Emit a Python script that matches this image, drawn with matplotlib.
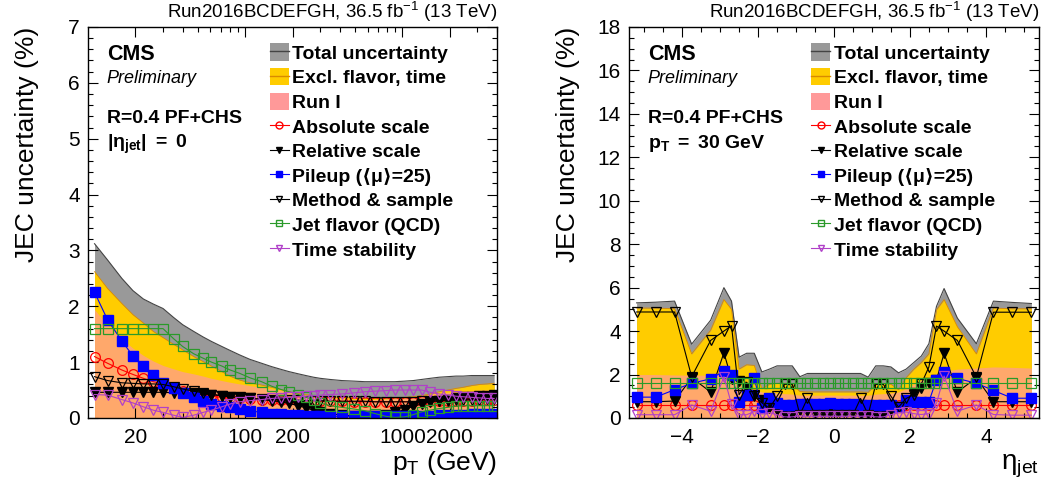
import matplotlib
matplotlib.use("Agg")
import matplotlib.pyplot as plt
import numpy as np
from matplotlib.patches import Patch
from matplotlib.lines import Line2D
from matplotlib.ticker import FixedLocator, LogLocator, NullFormatter, MultipleLocator

plt.rcParams['font.family'] = ['Liberation Sans', 'DejaVu Sans']
plt.rcParams['mathtext.fontset'] = 'custom'
plt.rcParams['mathtext.rm'] = 'Liberation Sans'
plt.rcParams['mathtext.it'] = 'Liberation Sans:italic'
plt.rcParams['mathtext.bf'] = 'Liberation Sans:bold'
plt.rcParams['mathtext.sf'] = 'Liberation Sans'

# ---- left panel: vs pT at eta = 0 ----
pt = [11, 13.3, 16.4, 19.3, 22.5, 26, 30, 35, 40, 47, 54, 61, 71, 80, 92, 107, 127, 147,
      169, 190, 218, 243, 272, 300, 346, 412, 494, 576, 668, 784, 895, 1036, 1172, 1326,
      1500, 1714, 1940, 2194, 2436, 2752, 3084, 3475, 3834]
pt_total = [3.12, 2.83, 2.50, 2.28, 2.13, 2.04, 1.96, 1.80, 1.67, 1.55, 1.45, 1.37, 1.28, 1.21, 1.13,
            1.05, 0.98, 0.92, 0.87, 0.83, 0.79, 0.76, 0.73, 0.71, 0.69, 0.67, 0.66, 0.65, 0.65,
            0.65, 0.65, 0.66, 0.67, 0.69, 0.71, 0.73, 0.74, 0.75, 0.75, 0.76, 0.76, 0.76, 0.76]
pt_excl = [2.62, 2.32, 2.05, 1.85, 1.70, 1.55, 1.44, 1.32, 1.22, 1.10, 1.01, 0.93, 0.83, 0.75, 0.68,
           0.63, 0.59, 0.55, 0.51, 0.47, 0.44, 0.42, 0.40, 0.39, 0.38, 0.37, 0.36, 0.35, 0.35,
           0.35, 0.36, 0.37, 0.38, 0.40, 0.43, 0.47, 0.50, 0.53, 0.55, 0.58, 0.60, 0.61, 0.62]
pt_run1 = [1.94, 1.66, 1.42, 1.25, 1.12, 1.02, 0.94, 0.88, 0.83, 0.79, 0.75, 0.71, 0.67, 0.64, 0.61,
           0.58, 0.55, 0.52, 0.49, 0.46, 0.44, 0.42, 0.40, 0.38, 0.36, 0.34, 0.33, 0.33, 0.33,
           0.34, 0.35, 0.36, 0.38, 0.40, 0.42, 0.44, 0.46, 0.47, 0.48, 0.49, 0.50, 0.50, 0.50]
pt_abs = [1.10, 0.98, 0.86, 0.78, 0.71, 0.65, 0.61, 0.54, 0.48, 0.44, 0.41, 0.39, 0.37, 0.36, 0.35,
          0.34, 0.33, 0.33, 0.32, 0.32, 0.31, 0.31, 0.31, 0.30, 0.30, 0.30, 0.29, 0.29, 0.29,
          0.29, 0.29, 0.29, 0.29, 0.30, 0.30, 0.30, 0.31, 0.31, 0.31, 0.31, 0.32, 0.32, 0.32]
pt_rel = [0.46, 0.46, 0.46, 0.46, 0.46, 0.46, 0.46, 0.45, 0.44, 0.44, 0.43, 0.42, 0.40, 0.38, 0.37,
          0.35, 0.33, 0.31, 0.29, 0.26, 0.22, 0.18, 0.14, 0.11, 0.08, 0.05, 0.04, 0.03, 0.04,
          0.06, 0.10, 0.15, 0.21, 0.25, 0.29, 0.31, 0.33, 0.35, 0.37, 0.38, 0.39, 0.40, 0.41]
pt_pu = [2.25, 1.76, 1.38, 1.11, 0.93, 0.77, 0.63, 0.53, 0.44, 0.38, 0.30, 0.25, 0.21, 0.19, 0.16,
         0.13, 0.10, 0.08, 0.07, 0.06, 0.05, 0.04, 0.04, 0.04, 0.03, 0.03, 0.03, 0.03, 0.03,
         0.03, 0.03, 0.03, 0.03, 0.04, 0.04, 0.05, 0.05, 0.06, 0.06, 0.07, 0.07, 0.07, 0.08]
pt_meth = [0.74, 0.67, 0.63, 0.62, 0.61, 0.61, 0.60, 0.56, 0.52, 0.48, 0.45, 0.42, 0.40, 0.38, 0.36,
           0.35, 0.34, 0.33, 0.33, 0.32, 0.32, 0.31, 0.31, 0.31, 0.30, 0.30, 0.30, 0.30, 0.29,
           0.29, 0.29, 0.29, 0.29, 0.30, 0.30, 0.31, 0.31, 0.32, 0.32, 0.33, 0.33, 0.34, 0.34]
pt_flav = [1.60, 1.60, 1.60, 1.60, 1.60, 1.60, 1.60, 1.42, 1.28, 1.15, 1.07, 1.00, 0.93, 0.86, 0.80,
           0.72, 0.65, 0.57, 0.51, 0.47, 0.42, 0.37, 0.32, 0.27, 0.22, 0.19, 0.16, 0.13, 0.08,
           0.03, 0.01, 0.02, 0.06, 0.11, 0.14, 0.17, 0.19, 0.21, 0.22, 0.22, 0.22, 0.22, 0.22]
pt_time = [0.42, 0.41, 0.33, 0.27, 0.20, 0.14, 0.10, 0.05, 0.01, 0.05, 0.10, 0.14, 0.20, 0.25, 0.29,
           0.31, 0.33, 0.35, 0.36, 0.37, 0.38, 0.39, 0.40, 0.41, 0.42, 0.43, 0.45, 0.47, 0.48,
           0.49, 0.50, 0.50, 0.50, 0.50, 0.46, 0.43, 0.41, 0.39, 0.38, 0.37, 0.36, 0.35, 0.35]

# ---- right panel: vs eta at pT = 30 GeV ----
eta = [-5.2, -4.7, -4.2, -3.75, -3.25, -2.9, -2.7, -2.5, -2.3, -2.1, -1.9, -1.7, -1.5, -1.3,
       -1.1, -0.9, -0.7, -0.5, -0.3, -0.1, 0.1, 0.3, 0.5, 0.7, 0.9, 1.1, 1.3, 1.5, 1.7, 1.9,
       2.1, 2.3, 2.5, 2.7, 2.9, 3.25, 3.75, 4.2, 4.7, 5.2]
eta_total = [5.30, 5.33, 5.38, 3.40, 4.50, 6.00, 5.38, 2.80, 2.98, 2.98, 2.12, 2.25, 2.40, 2.40,
             2.40, 1.90, 2.05, 2.05, 2.05, 2.05, 2.05, 2.05, 2.05, 2.05, 1.88, 2.40, 2.40, 2.35,
             2.08, 2.25, 2.55, 2.85, 3.42, 5.14, 5.96, 4.60, 3.42, 5.38, 5.32, 5.27]
eta_excl = [5.06, 5.06, 5.03, 2.95, 4.04, 5.45, 5.00, 2.25, 2.45, 2.42, 1.35, 1.55, 1.60, 1.60,
            1.58, 1.22, 1.20, 1.20, 1.20, 1.20, 1.20, 1.20, 1.20, 1.20, 1.18, 1.55, 1.60, 1.55,
            1.30, 1.85, 2.24, 2.55, 2.95, 4.98, 5.45, 4.20, 2.95, 5.06, 5.03, 5.03]
eta_run1 = [2.00, 2.00, 1.98, 1.97, 1.97, 2.05, 1.90, 1.55, 1.40, 1.30, 1.20, 1.15, 1.15, 1.12,
            1.10, 1.05, 1.05, 1.05, 1.05, 1.05, 1.05, 1.05, 1.05, 1.05, 1.05, 1.10, 1.12, 1.15,
            1.20, 1.35, 1.55, 1.75, 1.90, 2.05, 2.15, 2.25, 2.30, 2.35, 2.33, 2.30]
eta_abs = [0.62, 0.62, 0.62, 0.62, 0.62, 0.62, 0.62, 0.62, 0.62, 0.62, 0.62, 0.62, 0.62, 0.62,
           0.62, 0.62, 0.62, 0.62, 0.62, 0.62, 0.62, 0.62, 0.62, 0.62, 0.62, 0.62, 0.62, 0.62,
           0.62, 0.62, 0.62, 0.62, 0.62, 0.62, 0.62, 0.62, 0.62, 0.62, 0.62, 0.62]
eta_rel = [0.75, 0.75, 0.78, 1.85, 1.20, 3.00, 1.80, 1.70, 1.35, 1.05, 0.85, 0.50, 0.35, 0.15,
           0.15, 0.35, 0.30, 0.30, 0.30, 0.30, 0.30, 0.30, 0.30, 0.15, 0.20, 0.15, 0.15, 0.35,
           0.50, 0.65, 1.14, 1.38, 1.61, 1.75, 2.98, 1.19, 1.85, 0.75, 0.75, 0.75]
eta_pu = [0.96, 0.96, 1.30, 1.60, 1.80, 2.16, 2.00, 0.72, 1.07, 1.82, 0.44, 0.91, 0.67, 0.58,
          0.58, 0.63, 0.63, 0.63, 0.63, 0.70, 0.63, 0.63, 0.63, 0.58, 0.58, 0.58, 0.58, 0.60,
          0.52, 0.83, 0.72, 0.72, 0.75, 1.77, 2.12, 1.82, 1.60, 1.27, 0.91, 0.91]
eta_meth = [4.88, 4.88, 4.88, 1.90, 3.57, 4.00, 4.25, 1.07, 1.65, 1.00, 0.70, 0.45, 1.00, 1.55,
            1.55, 0.15, 0.90, 0.15, 0.15, 0.15, 0.15, 0.15, 0.15, 0.90, 0.15, 1.55, 1.55, 1.00,
            0.50, 0.90, 1.07, 1.57, 2.35, 4.23, 4.00, 3.57, 1.88, 4.87, 4.87, 4.87]
eta_flav = [1.60, 1.60, 1.60, 1.60, 1.60, 1.60, 1.60, 1.60, 1.60, 1.60, 1.60, 1.60, 1.60, 1.60,
            1.60, 1.60, 1.60, 1.60, 1.60, 1.60, 1.60, 1.60, 1.60, 1.60, 1.60, 1.60, 1.60, 1.60,
            1.60, 1.60, 1.60, 1.60, 1.60, 1.60, 1.60, 1.60, 1.60, 1.60, 1.60, 1.60]
eta_time = [0.15, 0.15, 0.15, 0.60, 0.31, 1.90, 0.63, 0.15, 0.15, 0.30, 0.20, 0.25, 0.15, 0.05,
            0.05, 0.10, 0.08, 0.08, 0.08, 0.08, 0.08, 0.08, 0.08, 0.08, 0.10, 0.05, 0.05, 0.15,
            0.25, 0.28, 0.20, 0.16, 0.20, 0.67, 1.93, 0.31, 0.60, 0.16, 0.13, 0.13]

labels = ["Total uncertainty", "Excl. flavor, time", "Run I", "Absolute scale",
          "Relative scale", "Pileup (\u27e8\u03bc\u27e9=25)", "Method & sample",
          "Jet flavor (QCD)", "Time stability"]

c_gray, c_gray_line = '#999999', '#444444'
c_yel, c_yel_line = '#ffcc00', '#d98a00'
c_pink = '#ff9999'
c_green = '#2a9a2a'
c_purple = '#b040c8'


def draw_panel(ax, x, total, excl, run1, comps):
    ax.fill_between(x, 0, total, color=c_gray, lw=0)
    ax.plot(x, total, color=c_gray_line, lw=0.8)
    ax.fill_between(x, 0, excl, color=c_yel, lw=0)
    ax.plot(x, excl, color=c_yel_line, lw=0.6)
    ax.fill_between(x, 0, run1, color=c_pink, alpha=0.7, lw=0)
    absv, rel, pu, meth, flav, tim = comps
    h = []
    h.append(ax.plot(x, absv, color='red', lw=0.8, marker='o', ms=7, mfc='none', mec='red', mew=0.9)[0])
    h.append(ax.plot(x, rel, color='black', lw=0.8, marker='v', ms=7, mfc='black', mec='black')[0])
    h.append(ax.plot(x, pu, color='blue', lw=0.8, marker='s', ms=6.5, mfc='blue', mec='blue')[0])
    h.append(ax.plot(x, meth, color='black', lw=0.8, marker='v', ms=7.5, mfc='none', mec='black', mew=0.9)[0])
    h.append(ax.plot(x, flav, color=c_green, lw=0.8, marker='s', ms=7, mfc='none', mec=c_green, mew=0.9)[0])
    h.append(ax.plot(x, tim, color=c_purple, lw=0.8, marker='v', ms=7, mfc='none', mec=c_purple, mew=0.9)[0])
    box = [(Patch(facecolor=c_gray, edgecolor='none'), Line2D([], [], color=c_gray_line, lw=1)),
           (Patch(facecolor=c_yel, edgecolor='none'), Line2D([], [], color=c_yel_line, lw=1)),
           Patch(facecolor=c_pink, edgecolor='none')]
    lines = []
    for l in h:
        lines.append(Line2D([], [], color=l.get_color(), lw=0.8, marker=l.get_marker(),
                            ms=5, mfc=l.get_markerfacecolor(), mec=l.get_markeredgecolor()))
    ax.legend(box + lines, labels, loc='upper left', bbox_to_anchor=(0.445, 0.958),
              frameon=False, borderpad=0, borderaxespad=0, handlelength=0.95,
              handleheight=1.0, handletextpad=0.2, labelspacing=0.27,
              prop={'weight': 'bold', 'size': 14})

    ax.tick_params(which='both', direction='in', top=True, right=True, labelsize=15)
    ax.tick_params(which='major', length=7, width=0.8)
    ax.tick_params(which='minor', length=3.5, width=0.8)
    ax.tick_params(axis='x', pad=7)
    ax.tick_params(axis='y', pad=6)
    for s in ax.spines.values():
        s.set_linewidth(1.0)

    ax.text(0.046, 0.916, "CMS", transform=ax.transAxes, fontsize=15.5, fontweight='bold')
    ax.text(0.046, 0.856, "Preliminary", transform=ax.transAxes, fontsize=13, style='italic')
    ax.text(0.046, 0.754, "R=0.4 PF+CHS", transform=ax.transAxes, fontsize=14, fontweight='bold')
    ax.text(1.0, 1.022, "Run2016BCDEFGH, 36.5 fb$^{-1}$ (13 TeV)", transform=ax.transAxes,
            ha='right', va='baseline', fontsize=13.5)
    ax.set_ylabel("JEC uncertainty (%)", fontsize=19, loc='top')
    ax.yaxis.set_label_coords(-0.12, 1.0)


fig = plt.figure(figsize=(10.48, 4.87), dpi=100)
ax1 = fig.add_axes([0.0840, 0.1417, 0.3903, 0.8029])
ax2 = fig.add_axes([0.6002, 0.1417, 0.3912, 0.8029])

draw_panel(ax1, pt, pt_total, pt_excl, pt_run1,
           (pt_abs, pt_rel, pt_pu, pt_meth, pt_flav, pt_time))
ax1.set_xscale('log')
ax1.set_xlim(10, 4000)
ax1.set_ylim(0, 7)
ax1.xaxis.set_major_locator(FixedLocator([20, 100, 200, 1000, 2000]))
ax1.set_xticklabels(["20", "100", "200", "1000", "2000"])
ax1.xaxis.set_minor_locator(LogLocator(base=10, subs=np.arange(2, 10)))
ax1.xaxis.set_minor_formatter(NullFormatter())
ax1.yaxis.set_major_locator(MultipleLocator(1))
ax1.yaxis.set_minor_locator(MultipleLocator(0.2))
ax1.text(0.046, 0.691, r"$\mathbf{|η_{jet}|\ =\ 0}$", transform=ax1.transAxes, fontsize=14)
ax1.set_xlabel(r"p$_{\mathrm{T}}$ (GeV)", fontsize=19, loc='right')
ax1.xaxis.set_label_coords(1.0, -0.08)

draw_panel(ax2, eta, eta_total, eta_excl, eta_run1,
           (eta_abs, eta_rel, eta_pu, eta_meth, eta_flav, eta_time))
ax2.set_xlim(-5.4, 5.4)
ax2.set_ylim(0, 18)
ax2.xaxis.set_major_locator(MultipleLocator(2))
ax2.xaxis.set_minor_locator(MultipleLocator(0.5))
ax2.yaxis.set_major_locator(MultipleLocator(2))
ax2.yaxis.set_minor_locator(MultipleLocator(0.5))
ax2.text(0.047, 0.691, r"$\mathbf{p_{T}\ =\ 30\ GeV}$", transform=ax2.transAxes, fontsize=14)
ax2.set_xlabel(r"$\mathrm{η_{jet}}$", fontsize=20, loc='right')
ax2.xaxis.set_label_coords(1.0, -0.09)

fig.savefig("out.png", dpi=100)
